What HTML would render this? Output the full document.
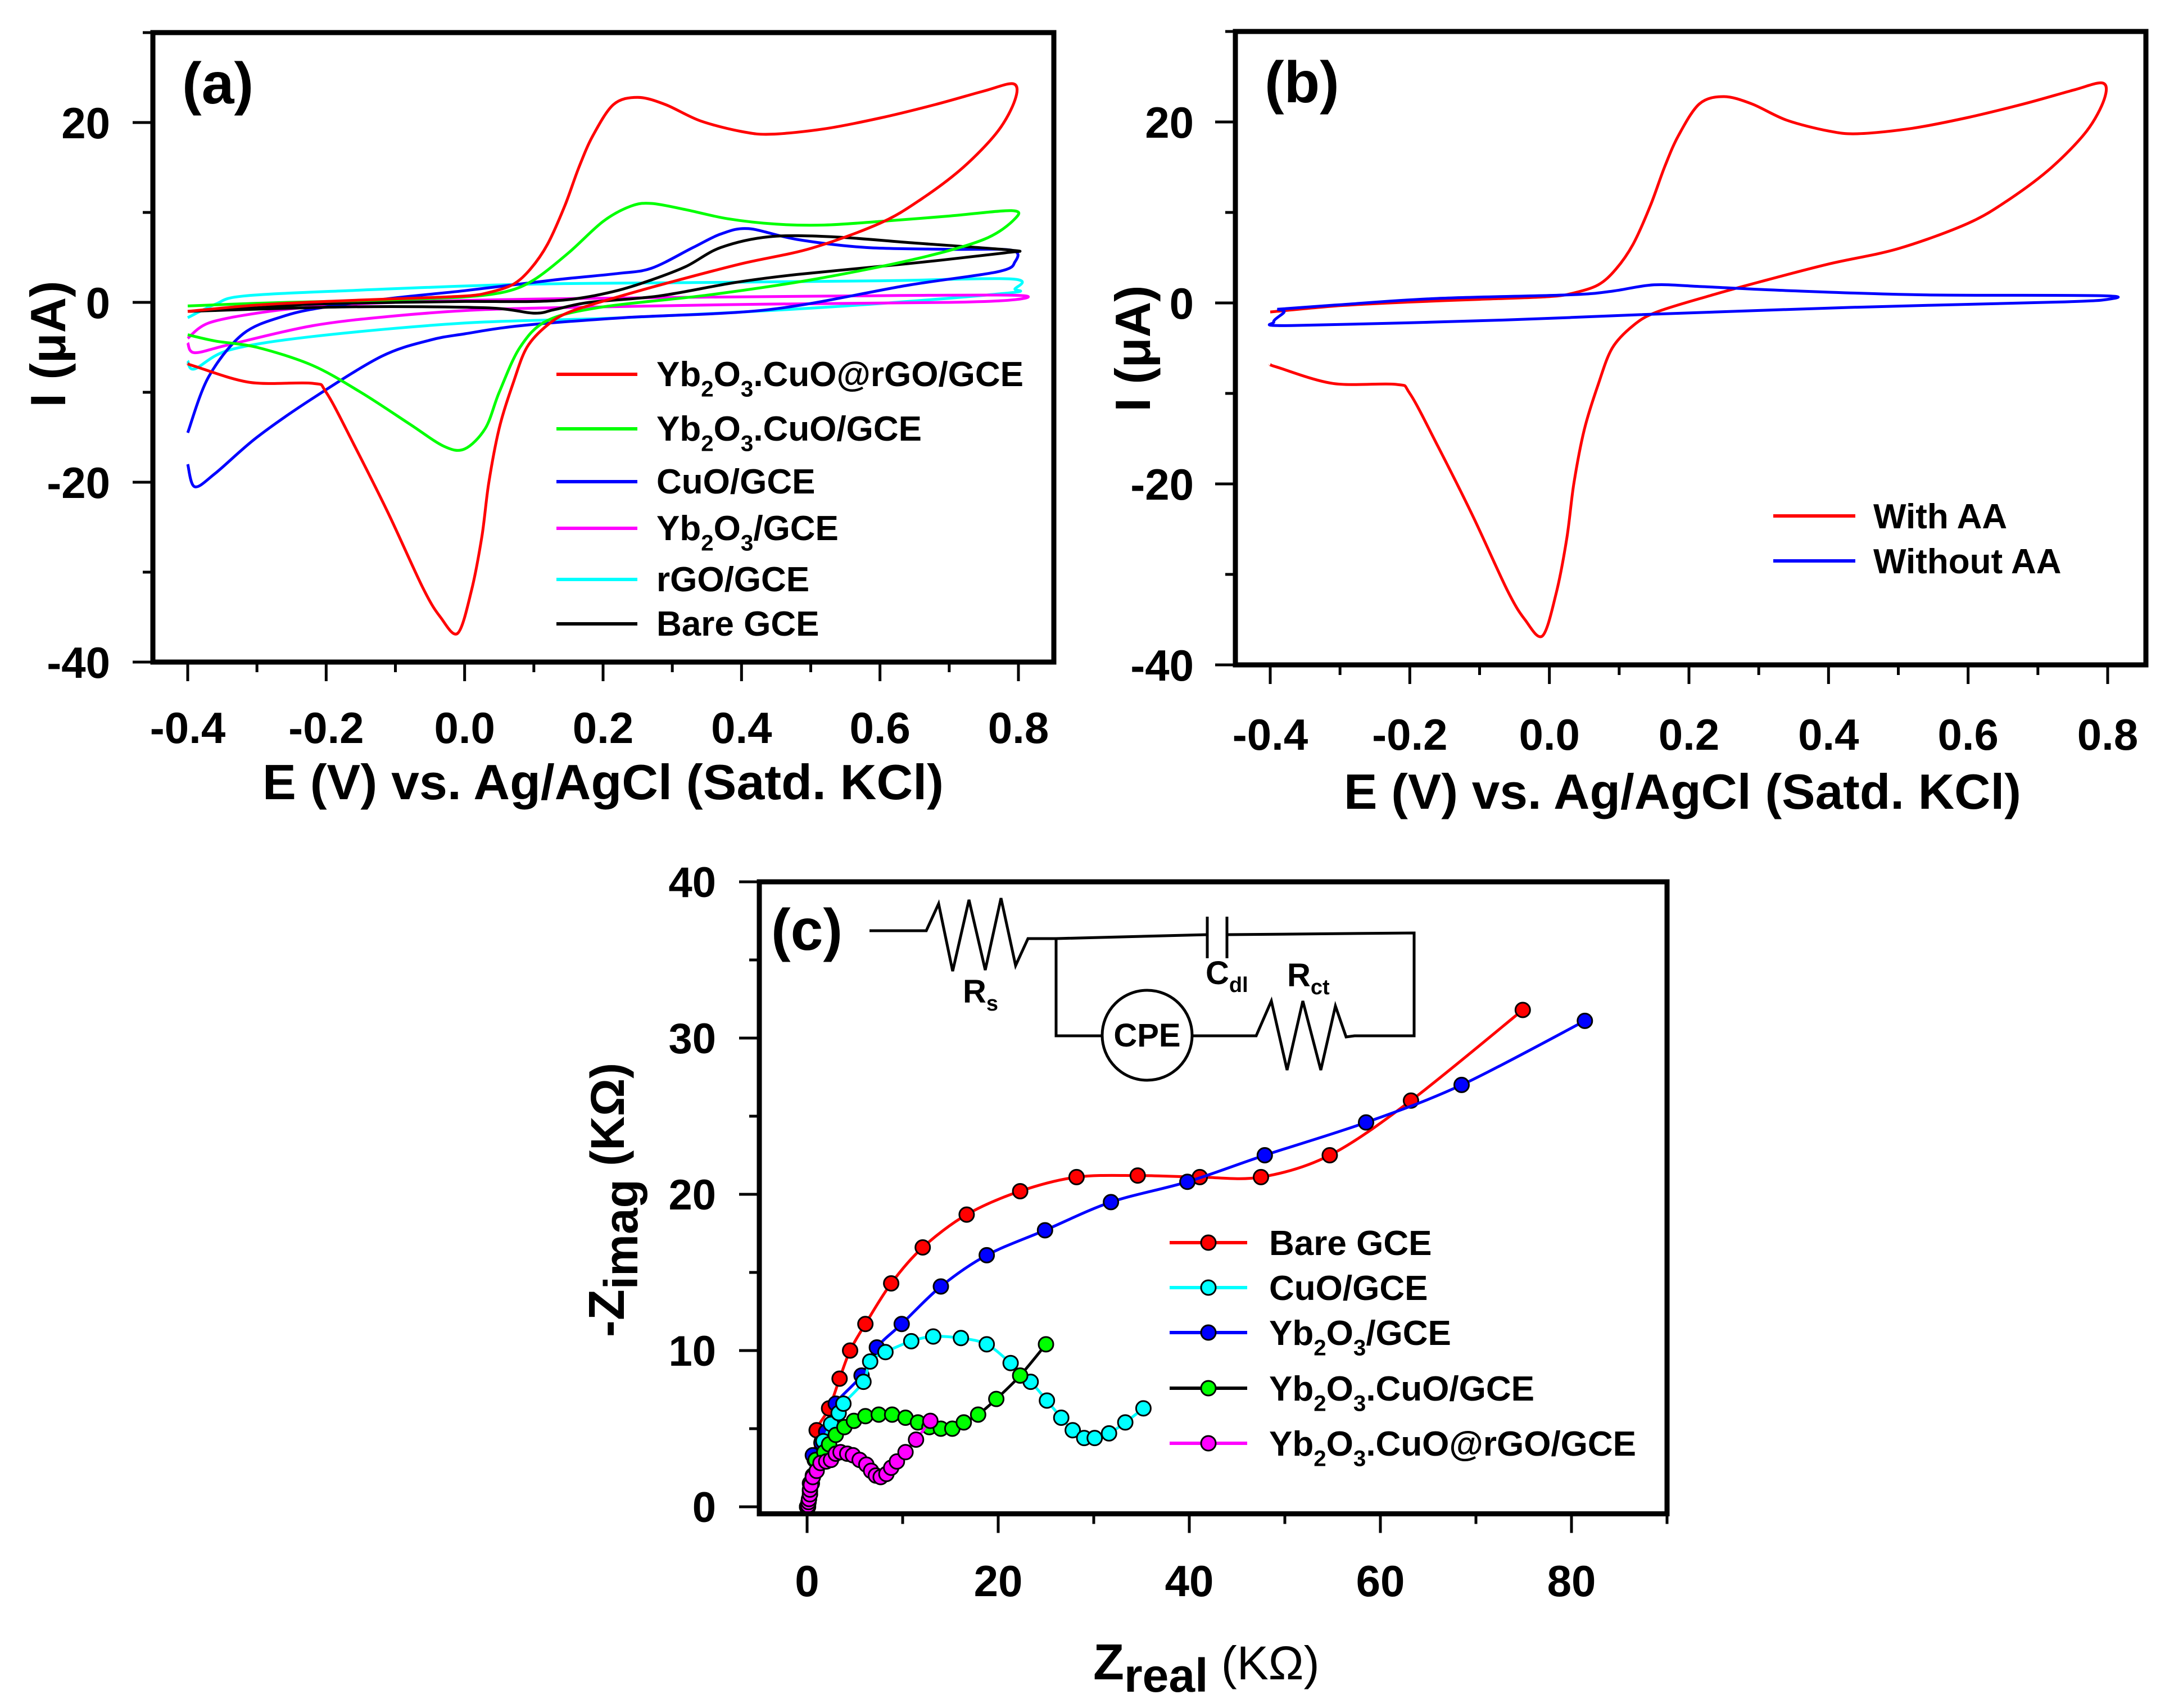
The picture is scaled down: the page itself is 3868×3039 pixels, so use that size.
<!DOCTYPE html>
<html><head><meta charset="utf-8"><style>
html,body{margin:0;padding:0;background:#fff;}
svg{display:block;font-family:"Liberation Sans",Arial,sans-serif;font-weight:bold;}
</style></head><body>
<svg id="fig" width="3868" height="3039" viewBox="0 0 3868 3039" xmlns="http://www.w3.org/2000/svg">
<rect width="3868" height="3039" fill="#fff"/>
</svg>
<script>
// ---- Panel (a) data: CV curves [E (V), I (uA)] ----
const cvRedA = [[-0.4,-1.0],[-0.3,-0.3],[-0.2,0.1],[-0.1,0.4],[0,0.7],[0.035,1.1],[0.07,2],[0.095,3.7],[0.12,6.5],[0.145,10.8],[0.165,15],[0.185,18.5],[0.215,22],[0.25,22.8],[0.29,22],[0.34,20.2],[0.4,19.0],[0.443,18.7],[0.52,19.3],[0.6,20.5],[0.68,22],[0.75,23.5],[0.793,24.3],[0.795,22.5],[0.77,19],[0.72,15],[0.66,11.5],[0.6,8.8],[0.5,6],[0.4,4.3],[0.3,2.3],[0.23,0.8],[0.154,-1],[0.12,-2.5],[0.09,-5],[0.07,-9],[0.05,-14],[0.035,-20],[0.025,-26],[0.01,-32],[-0.01,-36.8],[-0.035,-35],[-0.06,-31.8],[-0.11,-23.5],[-0.16,-15.8],[-0.2,-10],[-0.22,-9],[-0.31,-8.9],[-0.39,-7.1],[-0.4,-6.8]];
const cvGreenA = [[-0.4,-0.4],[-0.3,-0.1],[-0.2,0.1],[-0.1,0.3],[0,0.6],[0.06,1.2],[0.1,2.5],[0.15,5.5],[0.2,9],[0.24,10.7],[0.27,11],[0.32,10.3],[0.38,9.3],[0.45,8.7],[0.52,8.6],[0.6,9],[0.7,9.6],[0.79,10.2],[0.795,9.3],[0.75,7],[0.65,4.8],[0.5,2.5],[0.35,0.8],[0.2,-0.5],[0.12,-2],[0.08,-5],[0.05,-10],[0.03,-14],[0,-16.3],[-0.03,-16],[-0.08,-13.5],[-0.15,-10],[-0.22,-7],[-0.3,-5],[-0.36,-4.3],[-0.4,-3.6]];
const cvBlueA = [[-0.4,-14.5],[-0.37,-8.3],[-0.32,-3.5],[-0.26,-1.5],[-0.2,-0.5],[-0.1,0.5],[0,1.3],[0.13,2.5],[0.22,3.2],[0.27,3.8],[0.33,6.1],[0.37,7.6],[0.41,8.2],[0.48,7],[0.58,6.1],[0.7,5.9],[0.79,5.8],[0.795,4.5],[0.77,3.4],[0.64,1.9],[0.44,-0.8],[0.23,-1.7],[0.08,-2.6],[0,-3.5],[-0.05,-4.2],[-0.12,-6],[-0.22,-10.7],[-0.3,-15],[-0.36,-19],[-0.39,-20.5],[-0.4,-18]];
const cvMagentaA = [[-0.4,-4],[-0.37,-2.3],[-0.3,-1.2],[-0.22,-0.5],[-0.1,0],[0.13,0.4],[0.53,0.7],[0.79,0.8],[0.795,0.3],[0.7,0],[0.43,-0.2],[0.2,-0.5],[0.03,-0.8],[-0.1,-1.5],[-0.22,-2.6],[-0.34,-4.7],[-0.39,-5.6],[-0.4,-4.5]];
const cvCyanA = [[-0.4,-1.7],[-0.36,-0.2],[-0.32,0.7],[-0.17,1.3],[0.08,2],[0.33,2.2],[0.6,2.4],[0.79,2.6],[0.795,1.5],[0.78,1],[0.53,-0.5],[0.23,-1.7],[0,-2.3],[-0.22,-3.8],[-0.34,-5.3],[-0.39,-7.4],[-0.4,-6.5]];
const cvBlackA = [[-0.4,-1],[-0.3,-0.6],[-0.22,-0.2],[-0.1,0],[0,0.1],[0.1,0.1],[0.16,0.4],[0.22,1.3],[0.27,2.5],[0.32,4],[0.37,6.1],[0.44,7.3],[0.53,7.3],[0.65,6.6],[0.79,5.8],[0.78,5.5],[0.64,4.3],[0.48,3.1],[0.39,2.2],[0.28,0.7],[0.18,0],[0.13,-0.8],[0.1,-1.2],[0.03,-0.6],[-0.17,-0.5],[-0.4,-1]];
// ---- Panel (b) data ----
const cvBlueB = [[-0.39,-0.7],[-0.3,-0.2],[-0.16,0.5],[0.03,0.9],[0.09,1.3],[0.15,2],[0.22,1.8],[0.33,1.4],[0.53,0.9],[0.79,0.8],[0.8,0.4],[0.73,0.1],[0.43,-0.5],[0.13,-1.3],[-0.07,-1.9],[-0.37,-2.5],[-0.395,-2.1],[-0.38,-1],[-0.39,-0.7]];
// ---- Ticks ----
const cvXTicks = [-0.4,-0.2,0.0,0.2,0.4,0.6,0.8];
const cvXTickLabels = ["-0.4","-0.2","0.0","0.2","0.4","0.6","0.8"];
const cvYTicks = [20,0,-20,-40];
const cvYTickLabels = ["20","0","-20","-40"];
// ---- Panel (c) Nyquist data [Zreal, -Zimag] (kOhm) ----
const nyqBare = [[0,0],[0.3,1.5],[0.8,3],[1.0,4.9],[2.3,6.3],[3.4,8.2],[4.5,10],[6.1,11.7],[8.8,14.3],[12.1,16.6],[16.7,18.7],[22.3,20.2],[28.2,21.1],[34.6,21.2],[41.1,21.1],[47.5,21.1],[54.7,22.5],[63.2,26],[74.9,31.8]];
const nyqCuO = [[0,0],[0.5,1.5],[1,3],[1.7,4.2],[2.5,5.3],[3.3,6.0],[3.8,6.6],[5.9,8],[6.6,9.3],[8.2,9.9],[10.9,10.6],[13.2,10.9],[16.1,10.8],[18.8,10.4],[21.3,9.2],[23.4,8],[25.1,6.8],[26.6,5.7],[27.8,4.9],[29,4.4],[30.1,4.4],[31.6,4.7],[33.3,5.4],[35.2,6.3]];
const nyqYb = [[0,0],[0.6,3.3],[1.5,4.1],[2.0,4.8],[3.1,5.4],[3.0,6.6],[5.7,8.4],[7.3,10.2],[9.9,11.7],[14,14.1],[18.8,16.1],[24.9,17.7],[31.8,19.5],[39.8,20.8],[47.9,22.5],[58.5,24.6],[68.5,27],[81.4,31.1]];
const nyqYbCuO = [[0,0],[0.3,1],[0.6,2],[0.9,3.0],[1.8,3.5],[2.3,4.0],[3,4.6],[3.9,5.1],[4.9,5.5],[6.1,5.8],[7.5,5.9],[8.9,5.9],[10.3,5.7],[11.6,5.4],[12.8,5.1],[14,5.0],[15.2,5.0],[16.4,5.4],[17.9,5.9],[19.8,6.9],[22.3,8.4],[25.0,10.4]];
const nyqYbCuOrGO = [[0.1,0],[0.1,0.1],[0.15,0.3],[0.2,0.5],[0.3,0.8],[0.3,1.1],[0.4,1.4],[0.6,1.9],[1.0,2.3],[1.4,2.8],[2.0,2.9],[2.5,3.0],[3.0,3.4],[3.5,3.5],[4.2,3.4],[4.8,3.3],[5.5,3.0],[6.2,2.7],[6.7,2.3],[7.2,2.0],[7.7,1.9],[8.3,2.1],[8.8,2.5],[9.4,2.9],[10.3,3.5],[11.4,4.3],[12.9,5.5]];
const nyqXTicks = [0,20,40,60,80];
const nyqXTickLabels = ["0","20","40","60","80"];
const nyqYTicks = [0,10,20,30,40];
const nyqYTickLabels = ["0","10","20","30","40"];

const NS = "http://www.w3.org/2000/svg";
const svg = document.getElementById('fig');
function el(tag, attrs, parent){
  const e = document.createElementNS(NS, tag);
  for (const k in attrs) e.setAttribute(k, attrs[k]);
  (parent||svg).appendChild(e);
  return e;
}
function lin(d0,d1,p0,p1){ return v => p0 + (v-d0)/(d1-d0)*(p1-p0); }
function smoothPath(pts){
  let d = "M"+pts[0][0].toFixed(1)+","+pts[0][1].toFixed(1);
  for (let i=0;i<pts.length-1;i++){
    const p0=pts[Math.max(0,i-1)], p1=pts[i], p2=pts[i+1], p3=pts[Math.min(pts.length-1,i+2)];
    const t=0.16;
    const c1=[p1[0]+(p2[0]-p0[0])*t, p1[1]+(p2[1]-p0[1])*t];
    const c2=[p2[0]-(p3[0]-p1[0])*t, p2[1]-(p3[1]-p1[1])*t];
    d += " C"+c1[0].toFixed(1)+","+c1[1].toFixed(1)+" "+c2[0].toFixed(1)+","+c2[1].toFixed(1)+" "+p2[0].toFixed(1)+","+p2[1].toFixed(1);
  }
  return d;
}

function cvPanel(cfg){
  const g = el('g',{});
  
  
  const X = lin(-0.4,0.8,cfg.x0,cfg.x8), Y = lin(0,20,cfg.y0,cfg.y20);
  const top = Y(30), bot = Y(-40);
  const cg = el('g',{},g);
  cfg.series.forEach(s=>{
    const p = el('path',{d:smoothPath(s.data.map(q=>[X(q[0]),Y(q[1])])),fill:'none',stroke:s.color,'stroke-width':5,'stroke-linejoin':'round'},cg);
    
    
  });
  const fr = el('rect',{x:cfg.left,y:top,width:cfg.right-cfg.left,height:bot-top,fill:'none',stroke:'#000','stroke-width':9},g);
  
  
  for (let v=-0.4; v<=0.81; v+=0.1){
    const major = Math.abs(Math.round(v*10)%2)===0;
    el('line',{x1:X(v),x2:X(v),y1:bot+4,y2:bot+(major?34:18),stroke:'#000','stroke-width':5},g);
  }
  cvXTicks.forEach((v,i)=>{
    const t = el('text',{x:X(v),y:cfg.xlabY,'font-size':78,'text-anchor':'middle'},g);
    t.textContent = cvXTickLabels[i];
    
    
  });
  for (let v=-40; v<=30; v+=10){
    const major = (v%20===0);
    el('line',{x1:cfg.left-(major?36:18),x2:cfg.left-4,y1:Y(v),y2:Y(v),stroke:'#000','stroke-width':5},g);
  }
  cvYTicks.forEach((v,i)=>{
    const t = el('text',{x:cfg.ylabX,y:Y(v)+28,'font-size':78,'text-anchor':'end'},g);
    t.textContent = cvYTickLabels[i];
    
    
  });
  const xt = el('text',{x:cfg.xtX,y:cfg.xtY,'font-size':88,textLength:cfg.xtW,lengthAdjust:'spacingAndGlyphs'},g);
  xt.textContent = 'E (V) vs. Ag/AgCl (Satd. KCl)';
  
  
  const yt = el('text',{x:0,y:0,'font-size':88,'text-anchor':'middle',transform:`translate(${cfg.ytX},${cfg.ytY}) rotate(-90)`},g);
  yt.textContent = 'I (\u03bcA)';
  
  
  const pl = el('text',{x:cfg.left+52,y:top+126,'font-size':104},g);
  pl.textContent = cfg.label;
  
  
  return g;
}

function subText(parent, x, y, size, parts, name){
  const t = el('text',{x:x,y:y,'font-size':size},parent);
  
  
  let shift = 0;
  parts.forEach(p=>{
    const sp = document.createElementNS(NS,'tspan');
    const target = p[1] ? size*0.3 : 0;
    sp.setAttribute('dy', target-shift);
    shift = target;
    if (p[1]) sp.setAttribute('font-size', size*0.65);
    sp.textContent = p[0];
    t.appendChild(sp);
  });
  return t;
}
const lblRGO = [["Yb"],["2",1],["O"],["3",1],[".CuO@rGO/GCE"]];
const lblYbCuO = [["Yb"],["2",1],["O"],["3",1],[".CuO/GCE"]];
const lblYb = [["Yb"],["2",1],["O"],["3",1],["/GCE"]];

// Panel (a)
const gA = cvPanel({name:'panel-a-cv', label:'(a)', left:272, right:1875, x0:334, x8:1812, y0:538, y20:218,
  xlabY:1322, ylabX:196, xtX:467, xtY:1422, xtW:1212, ytX:116, ytY:612,
  series:[{id:'curve-rgo-gce',data:cvCyanA,color:'#00ffff'},{id:'curve-yb2o3-gce',data:cvMagentaA,color:'#ff00ff'},
          {id:'curve-cuo-gce',data:cvBlueA,color:'#0000ff'},{id:'curve-bare-gce',data:cvBlackA,color:'#000000'},
          {id:'curve-yb2o3-cuo-gce',data:cvGreenA,color:'#00ff00'},{id:'curve-yb2o3-cuo-rgo-gce',data:cvRedA,color:'#ff0000'}]});
const legA = [[lblRGO,'#ff0000',666],[lblYbCuO,'#00ff00',763],[[["CuO/GCE"]],'#0000ff',857],[lblYb,'#ff00ff',940],[[["rGO/GCE"]],'#00ffff',1031],[[["Bare GCE"]],'#000000',1110]];
const lgA = el('g',{},gA);


legA.forEach(r=>{
  el('line',{x1:990,x2:1134,y1:r[2],y2:r[2],stroke:r[1],'stroke-width':6},lgA);
  subText(lgA,1168,r[2]+21,62,r[0],'legend-entry');
});

// Panel (b)
const gB = cvPanel({name:'panel-b-cv', label:'(b)', left:2198, right:3818, x0:2260, x8:3750, y0:539, y20:217,
  xlabY:1334, ylabX:2124, xtX:2391, xtY:1439, xtW:1205, ytX:2046, ytY:620,
  series:[{id:'curve-with-aa',data:cvRedA,color:'#ff0000'},{id:'curve-without-aa',data:cvBlueB,color:'#0000ff'}]});
const lgB = el('g',{},gB);


[[ "With AA",'#ff0000',918],["Without AA",'#0000ff',998]].forEach(r=>{
  el('line',{x1:3155,x2:3301,y1:r[2],y2:r[2],stroke:r[1],'stroke-width':6},lgB);
  const t = el('text',{x:3333,y:r[2]+22,'font-size':62},lgB);
  t.textContent = r[0];
  
  
});

// Panel (c)
(function(){
  const g = el('g',{});
  
  
  const X = lin(0,80,1436,2796), Y = lin(0,40,2681,1569);
  const left = X(-5), right = X(90), top = Y(40), bot = Y(-0.45);
  const series = [
    {id:'series-bare-gce', data:nyqBare, line:'#ff0000', fill:'#ff0000'},
    {id:'series-yb2o3-gce', data:nyqYb, line:'#0000ff', fill:'#0000ff'},
    {id:'series-cuo-gce', data:nyqCuO, line:'#00ffff', fill:'#00ffff'},
    {id:'series-yb2o3-cuo-gce', data:nyqYbCuO, line:'#000000', fill:'#00ff00'},
    {id:'series-yb2o3-cuo-rgo-gce', data:nyqYbCuOrGO, line:'#ff00ff', fill:'#ff00ff'}];
  series.forEach(s=>{
    const sg = el('g',{},g);
    
    
    el('path',{d:smoothPath(s.data.map(q=>[X(q[0]),Y(q[1])])),fill:'none',stroke:s.line,'stroke-width':5},sg);
    s.data.forEach(q=>{
      const c = el('circle',{cx:X(q[0]),cy:Y(q[1]),r:13,fill:s.fill,stroke:'#000','stroke-width':3},sg);
      
      
    });
  });
  const fr = el('rect',{x:left,y:top,width:right-left,height:bot-top,fill:'none',stroke:'#000','stroke-width':9},g);
  
  
  for (let v=0; v<=90; v+=10){
    const major = v%20===0;
    el('line',{x1:X(v),x2:X(v),y1:bot+4,y2:bot+(major?34:18),stroke:'#000','stroke-width':5},g);
  }
  nyqXTicks.forEach((v,i)=>{
    const t = el('text',{x:X(v),y:2840,'font-size':78,'text-anchor':'middle'},g);
    t.textContent = nyqXTickLabels[i];
    
    
  });
  for (let v=0; v<=40; v+=5){
    const major = v%10===0;
    el('line',{x1:left-(major?36:18),x2:left-4,y1:Y(v),y2:Y(v),stroke:'#000','stroke-width':5},g);
  }
  nyqYTicks.forEach((v,i)=>{
    const t = el('text',{x:1274,y:Y(v)+27,'font-size':76,'text-anchor':'end'},g);
    t.textContent = nyqYTickLabels[i];
    
    
  });
  const xt = el('text',{x:1945,y:2988,'font-size':90},g);
  
  
  xt.innerHTML = '<tspan>Z</tspan><tspan dy="22" font-size="84">real</tspan><tspan dy="-22" font-weight="normal" font-size="84"> (K\u03a9)</tspan>';
  const yt = el('text',{x:0,y:0,'font-size':90,'text-anchor':'middle',transform:'translate(1110,2135) rotate(-90)'},g);
  
  
  yt.innerHTML = '<tspan>-Z</tspan><tspan dy="24" font-size="84">imag</tspan><tspan dy="-24" font-size="84"> (K\u03a9)</tspan>';
  const pl = el('text',{x:1372,y:1690,'font-size':104},g);
  pl.textContent = '(c)';
  
  
  const cc = el('g',{fill:'none',stroke:'#000','stroke-width':5,'stroke-linejoin':'miter'},g);
  
  
  el('polyline',{points:'1547,1656 1648,1656 1670,1608 1695,1728 1724,1601 1753,1726 1781,1598 1807,1718 1829,1670 1879,1670 2148,1663'},cc);
  el('line',{x1:2148,x2:2148,y1:1631,y2:1705},cc);
  el('line',{x1:2183,x2:2183,y1:1631,y2:1705},cc);
  el('polyline',{points:'2183,1663 2516,1660 2516,1843 2410,1843 2395,1845 2376,1790 2350,1904 2318,1781 2290,1904 2262,1781 2235,1843 2218,1843 2123,1843'},cc);
  el('polyline',{points:'1879,1670 1879,1843 1960,1843'},cc);
  el('circle',{cx:2041,cy:1842,r:80},cc);
  const tx = el('g',{'font-size':58},g);
  
  
  el('text',{x:2041,y:1862,'text-anchor':'middle'},tx).textContent='CPE';
  const rs = el('text',{x:1713,y:1784},tx); rs.innerHTML='R<tspan font-size="38" dy="14">s</tspan>';
  const cd = el('text',{x:2145,y:1751},tx); cd.innerHTML='C<tspan font-size="38" dy="14">dl</tspan>';
  const rc = el('text',{x:2290,y:1755},tx); rc.innerHTML='R<tspan font-size="38" dy="14">ct</tspan>';
  const lg = el('g',{},g);
  
  
  const rows = [[[["Bare GCE"]],'#ff0000','#ff0000',2211],[[["CuO/GCE"]],'#00ffff','#00ffff',2291],[lblYb,'#0000ff','#0000ff',2371],[lblYbCuO,'#000000','#00ff00',2470],[lblRGO,'#ff00ff','#ff00ff',2568]];
  rows.forEach(r=>{
    el('line',{x1:2081,x2:2219,y1:r[3],y2:r[3],stroke:r[1],'stroke-width':6},lg);
    el('circle',{cx:2150,cy:r[3],r:13,fill:r[2],stroke:'#000','stroke-width':3},lg);
    subText(lg,2258,r[3]+22,62,r[0],'legend-entry');
  });
})();
</script>
</body></html>
